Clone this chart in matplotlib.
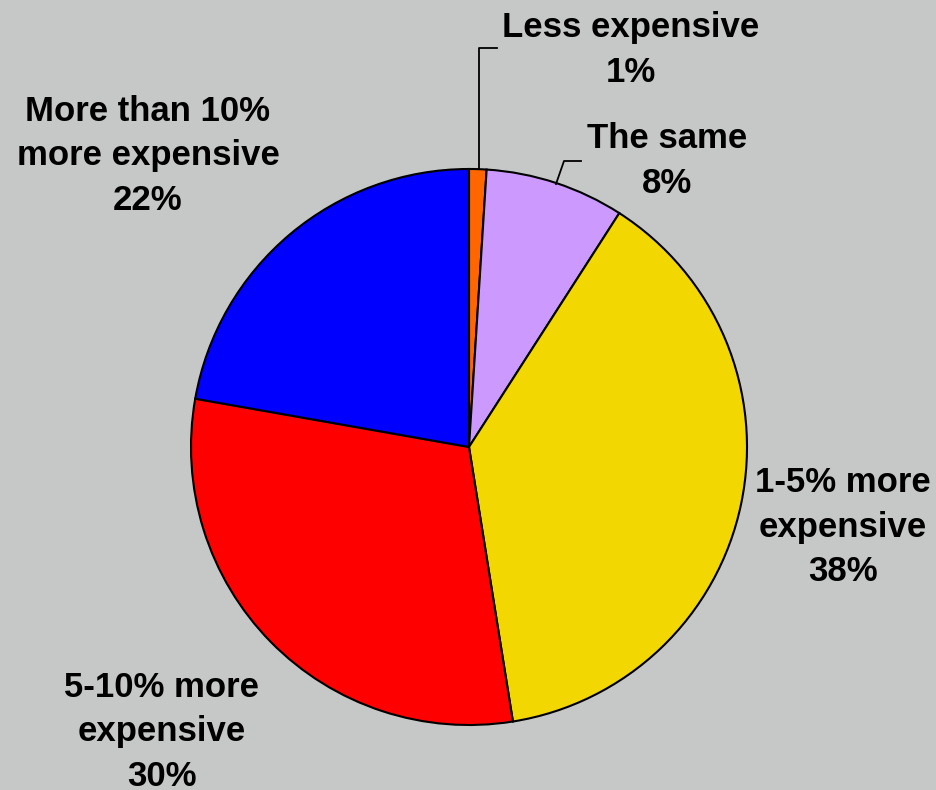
import matplotlib.pyplot as plt

labels = ["Less expensive", "The same", "1-5% more\nexpensive",
          "5-10% more\nexpensive", "More than 10%\nmore expensive"]
values = [1, 8, 38, 30, 22]
colors = ["#FF6600", "#CC99FF", "#F2D800", "#FF0000", "#0000FF"]

# label centres (x, y of the middle line block), pixel-like coords
label_pos = [(631, 50), (667, 161), (843, 527), (162, 732), (148, 156)]

bg = "#C5C8C6"
fig = plt.figure(figsize=(9.37, 7.90), dpi=100, facecolor=bg)
ax = fig.add_axes([0, 0, 1, 1])
ax.set_facecolor(bg)

cx, cy, r = 469, 447, 278
# y axis runs downward, so counterclock=True draws clockwise on screen
ax.pie(values, colors=colors, startangle=-90, counterclock=True,
       center=(cx, cy), radius=r, frame=True,
       wedgeprops=dict(edgecolor="black", linewidth=1.5))
ax.set_xlim(0, 937)
ax.set_ylim(790, 0)
ax.set_aspect("equal")
ax.axis("off")

for lab, v, (x, y) in zip(labels, values, label_pos):
    ax.text(x, y, f"{lab}\n{v}%", ha="center", va="center",
            fontsize=25, fontweight="bold", family="Liberation Sans",
            linespacing=1.44, color="black")

# leader lines for the two small slices
ax.plot([479, 479, 497], [169, 48, 48], color="black", lw=1.3)
ax.plot([556, 564, 581], [184, 161, 161], color="black", lw=1.3)

fig.savefig("out.png", dpi=100, facecolor=bg)
